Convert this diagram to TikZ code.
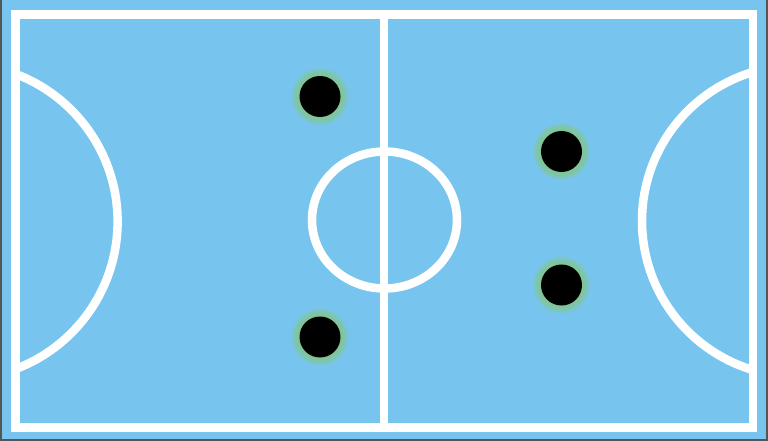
\documentclass[tikz,border=0pt]{standalone}
\begin{document}
\begin{tikzpicture}[x=1pt,y=-1pt,
  courtline/.style={white,line width=8.5pt},
  player/.style={circle,fill=black,inner sep=0pt,minimum size=41pt}]
\definecolor{court}{RGB}{119,197,239}
\definecolor{glowc}{RGB}{140,200,90}
\definecolor{framec}{RGB}{85,85,85}
\useasboundingbox (0,0) rectangle (768,441);
\fill[court] (0,0) rectangle (768,441);
\draw[framec,line width=2pt] (1,0) -- (1,440) -- (767,440) -- (767,0);
% penalty areas
\begin{scope}
  \clip (15.5,14.5) rectangle (753,427.5);
  \draw[courtline] (-40,221.5) circle (157.6);
  \draw[courtline] (797.5,221) circle (155.5);
\end{scope}
% court lines
\draw[courtline] (15.5,14.5) rectangle (753,427.5);
\draw[courtline] (384,14.5) -- (384,427.5);
\draw[courtline] (384.5,220) ellipse [x radius=72.5, y radius=68.5];
% glow
\foreach \p in {(320,96.5),(320,337),(561.5,151.5),(561.5,285)}{
  \foreach \r in {21,...,29}{\fill[glowc,opacity=0.1] \p circle (\r);}
}
% players
\node[player] (p1) at (320,96.5) {};
\node[player] (p2) at (320,337) {};
\node[player] (p3) at (561.5,151.5) {};
\node[player] (p4) at (561.5,285) {};
\end{tikzpicture}
\end{document}
